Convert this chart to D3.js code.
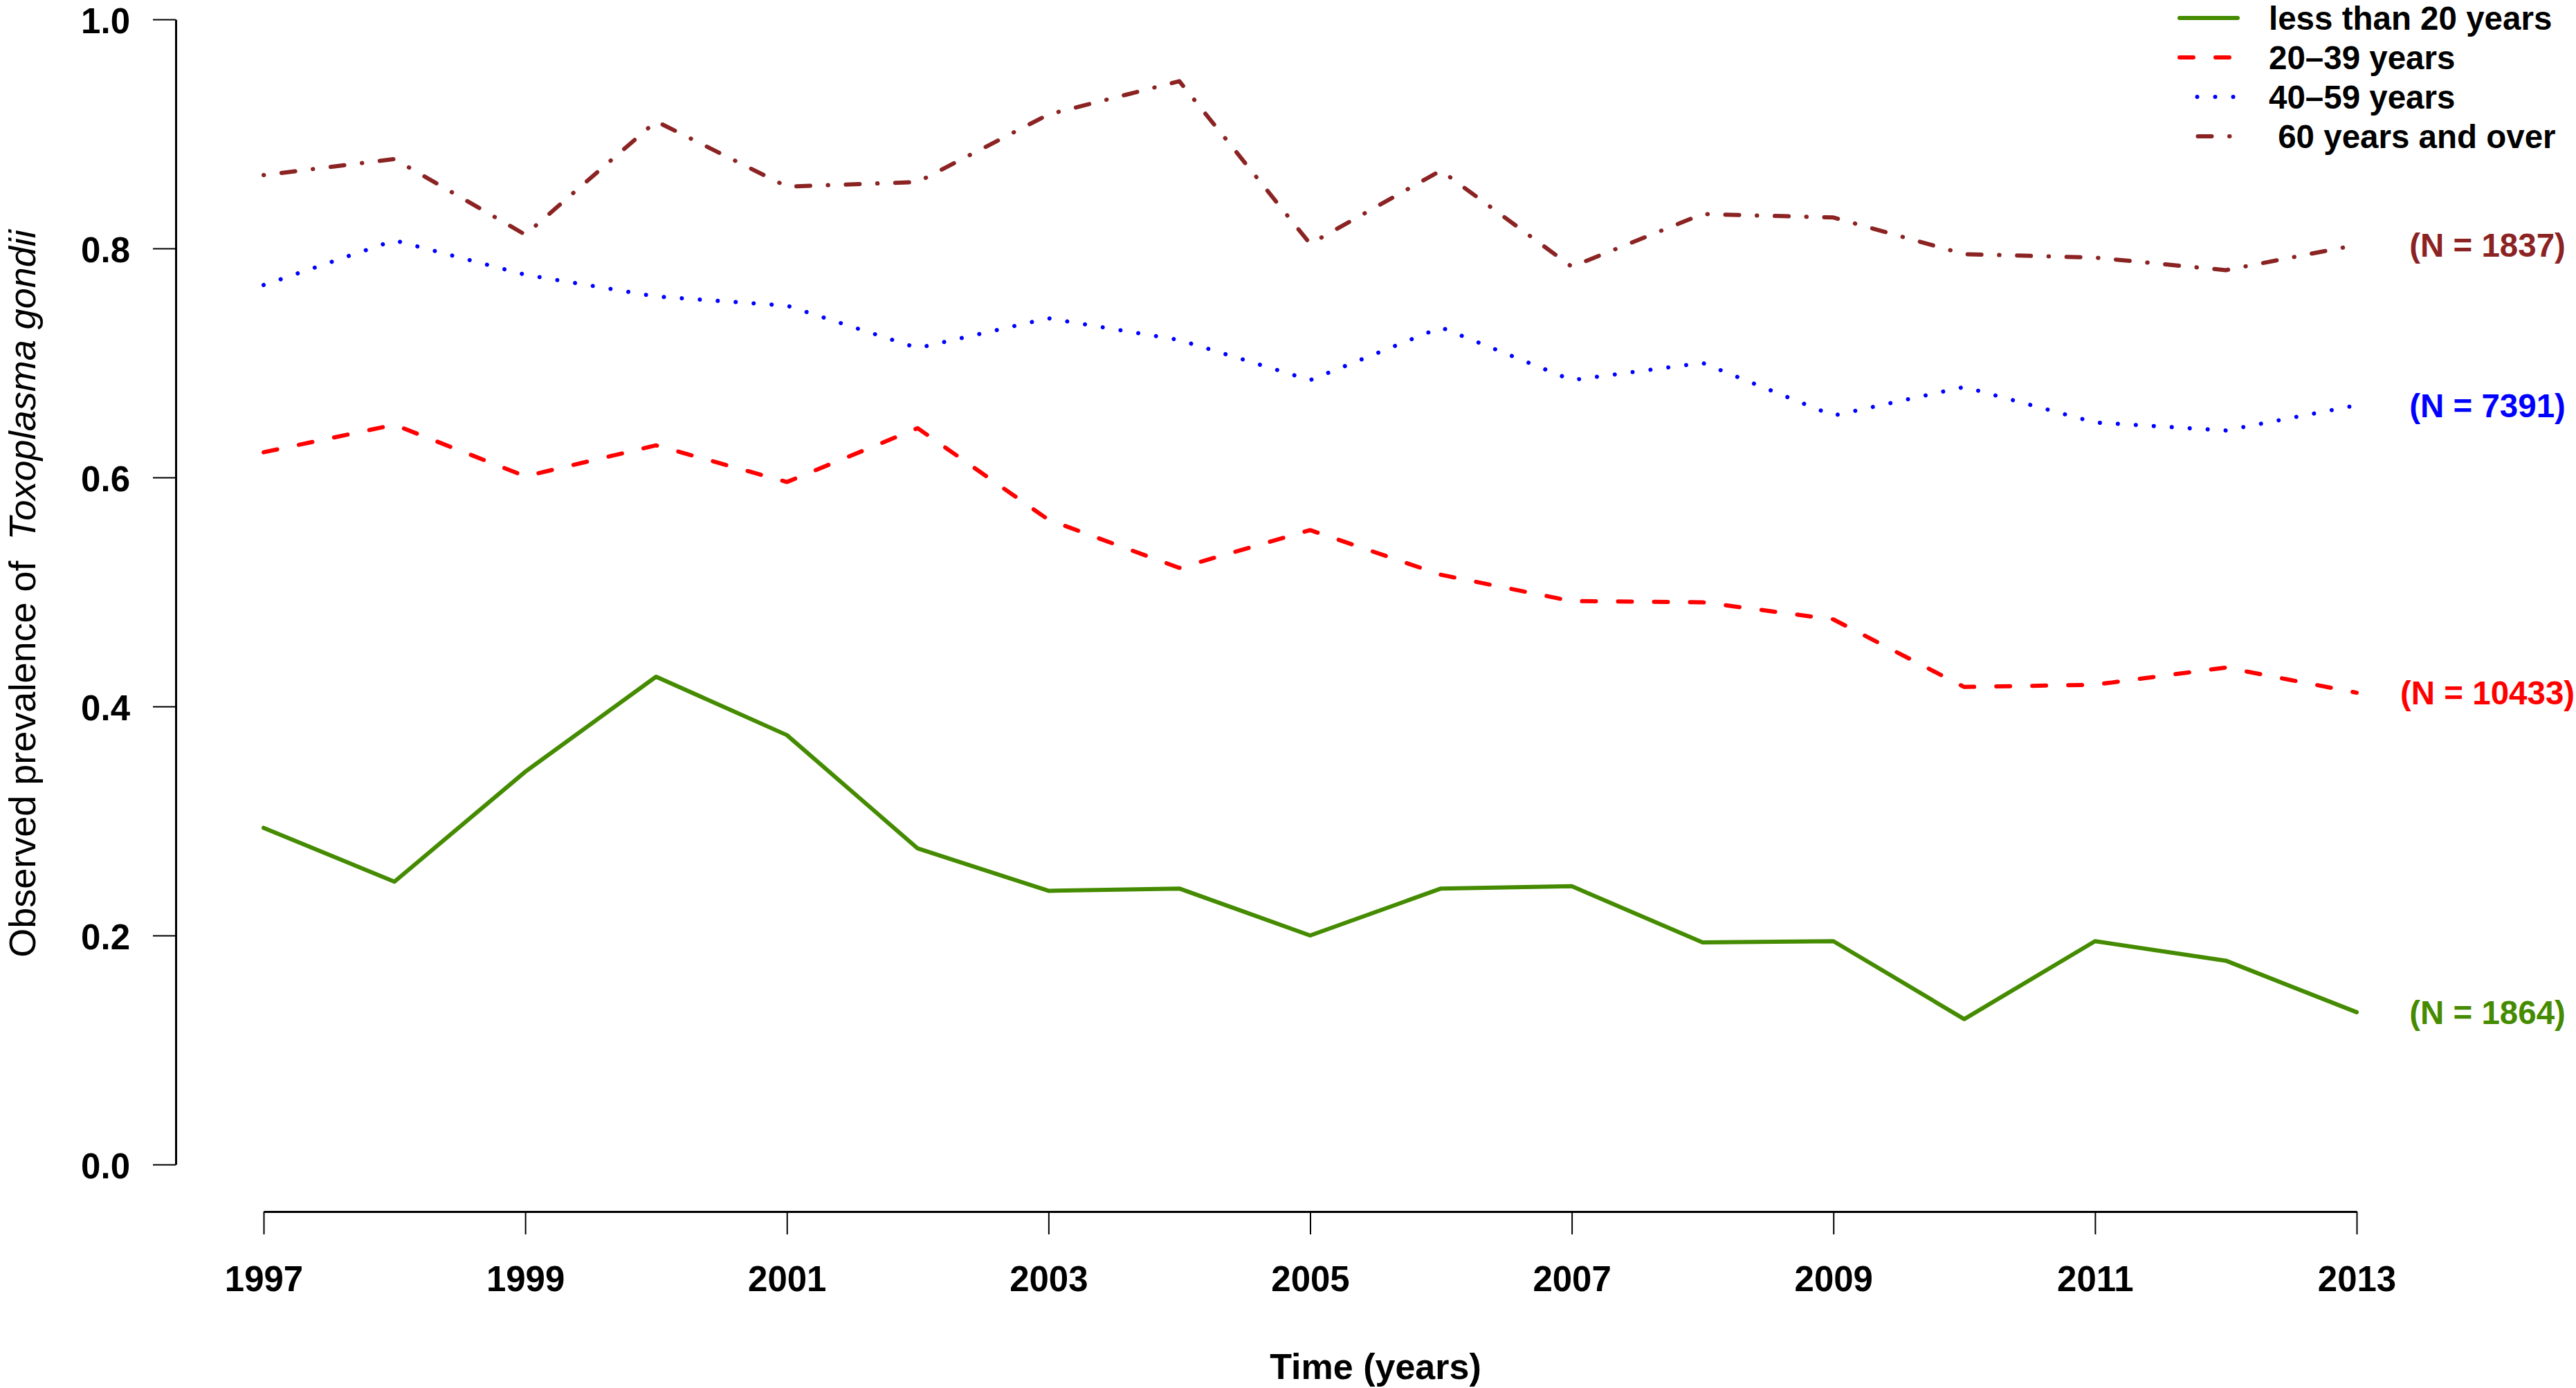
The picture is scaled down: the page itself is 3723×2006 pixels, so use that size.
<!DOCTYPE html>
<html>
<head>
<meta charset="utf-8">
<script src="https://cdn.jsdelivr.net/npm/d3@7"></script>
<style>
  html, body { margin: 0; padding: 0; background: #ffffff; }
  svg { display: block; }
  text { font-family: "Liberation Sans", Arial, Helvetica, sans-serif; }
</style>
</head>
<body>
<script>
// ---------------- data ----------------
const years = [1997, 1998, 1999, 2000, 2001, 2002, 2003, 2004, 2005, 2006, 2007, 2008, 2009, 2010, 2011, 2012, 2013];
const under20 = [0.294, 0.247, 0.343, 0.426, 0.375, 0.276, 0.239, 0.241, 0.200, 0.241, 0.243, 0.194, 0.195, 0.127, 0.195, 0.178, 0.133];
const age20to39 = [0.622, 0.646, 0.601, 0.628, 0.596, 0.643, 0.563, 0.521, 0.554, 0.515, 0.492, 0.491, 0.476, 0.417, 0.419, 0.434, 0.412];
const age40to59 = [0.768, 0.807, 0.777, 0.758, 0.750, 0.713, 0.739, 0.720, 0.685, 0.731, 0.685, 0.700, 0.654, 0.679, 0.648, 0.641, 0.663];
const age60plus = [0.864, 0.878, 0.812, 0.911, 0.854, 0.858, 0.917, 0.946, 0.804, 0.868, 0.784, 0.830, 0.827, 0.795, 0.792, 0.781, 0.803];

const seriesNames = ["less than 20 years", "20\u201339 years", "40\u201359 years", " 60 years and over"];
const nLabels = ["(N = 1864)", "(N = 10433)", "(N = 7391)", "(N = 1837)"];
const xTickValues = [1997, 1999, 2001, 2003, 2005, 2007, 2009, 2011, 2013];
const yTickValues = [0.0, 0.2, 0.4, 0.6, 0.8, 1.0];
const labelYear = 2014;

// ---------------- styles ----------------
const colors = ["#458B00", "#FF0000", "#0000FF", "#8B2323"];
const dashes = [null, "20,32", "0.01,26", "0.5,25.5,20,25.5"];
const lineW = 6;

const W = 3723, H = 2006;
const svg = d3.select("body").append("svg")
  .attr("width", W).attr("height", H)
  .attr("viewBox", `0 0 ${W} ${H}`);

const x = d3.scaleLinear().domain([1997, 2013]).range([381, 3406]);
const y = d3.scaleLinear().domain([0, 1]).range([1683, 28]);
const xAxisY = 1751, yAxisX = 254;

// ---------------- axes ----------------
const gy = svg.append("g").attr("transform", `translate(${yAxisX},0)`)
  .call(d3.axisLeft(y).tickValues(yTickValues).tickFormat(d3.format(".1f"))
    .tickSize(33).tickSizeOuter(0).tickPadding(33));
gy.select(".domain").attr("stroke", "#000").attr("stroke-width", 3);
gy.selectAll(".tick line").attr("stroke", "#000").attr("stroke-width", 2);
gy.selectAll(".tick text").attr("font-size", 51).attr("font-weight", "bold")
  .attr("fill", "#000").attr("dy", "0.39em")
  .style("font-family", '"Liberation Sans", Arial, Helvetica, sans-serif');

const gx = svg.append("g").attr("transform", `translate(0,${xAxisY})`)
  .call(d3.axisBottom(x).tickValues(xTickValues).tickFormat(d3.format("d"))
    .tickSize(33).tickSizeOuter(0).tickPadding(46));
gx.select(".domain").attr("stroke", "#000").attr("stroke-width", 3);
gx.selectAll(".tick line").attr("stroke", "#000").attr("stroke-width", 2);
gx.selectAll(".tick text").attr("font-size", 51).attr("font-weight", "bold")
  .attr("fill", "#000")
  .style("font-family", '"Liberation Sans", Arial, Helvetica, sans-serif');

// axis titles
svg.append("text")
  .attr("x", 1988).attr("y", 1993)
  .attr("text-anchor", "middle")
  .attr("font-size", 52).attr("font-weight", "bold")
  .text("Time (years)");

const yt = svg.append("text")
  .attr("transform", "translate(51,858) rotate(-90)")
  .attr("text-anchor", "middle")
  .attr("font-size", 54)
  .style("white-space", "pre");
yt.append("tspan").text("Observed prevalence of  ");
yt.append("tspan").attr("font-style", "italic").text("Toxoplasma gondii");

// ---------------- lines ----------------
const allSeries = [under20, age20to39, age40to59, age60plus];
const line = d3.line().x((d, i) => x(years[i])).y(d => y(d));

allSeries.forEach((vals, k) => {
  const p = svg.append("path")
    .datum(vals)
    .attr("d", line)
    .attr("fill", "none")
    .attr("stroke", colors[k])
    .attr("stroke-width", lineW)
    .attr("stroke-linejoin", "round")
    .attr("stroke-linecap", "round");
  if (dashes[k]) p.attr("stroke-dasharray", dashes[k]);
});

// N labels at the end of each line
allSeries.forEach((vals, k) => {
  svg.append("text")
    .attr("x", x(labelYear))
    .attr("y", y(vals[vals.length - 1]))
    .attr("dy", "0.36em")
    .attr("text-anchor", "middle")
    .attr("font-size", 47.5).attr("font-weight", "bold")
    .attr("fill", colors[k])
    .text(nLabels[k]);
});

// ---------------- legend ----------------
const legRowY = [26, 83, 140, 197];
const legSeg = [[3150, 3234, 0], [3150, 3237, 0], [3160, 3237, 10.5], [3160, 3237, 9.5]];
seriesNames.forEach((name, k) => {
  const seg = svg.append("line")
    .attr("x1", legSeg[k][0]).attr("x2", legSeg[k][1])
    .attr("y1", legRowY[k]).attr("y2", legRowY[k])
    .attr("stroke", colors[k]).attr("stroke-width", lineW)
    .attr("stroke-linecap", "round");
  if (dashes[k]) seg.attr("stroke-dasharray", dashes[k]).attr("stroke-dashoffset", legSeg[k][2]);
  svg.append("text")
    .attr("x", 3279).attr("y", legRowY[k] + 17)
    .attr("font-size", 47.5).attr("font-weight", "bold")
    .attr("fill", "#000")
    .style("white-space", "pre")
    .text(name);
});
</script>
</body>
</html>
